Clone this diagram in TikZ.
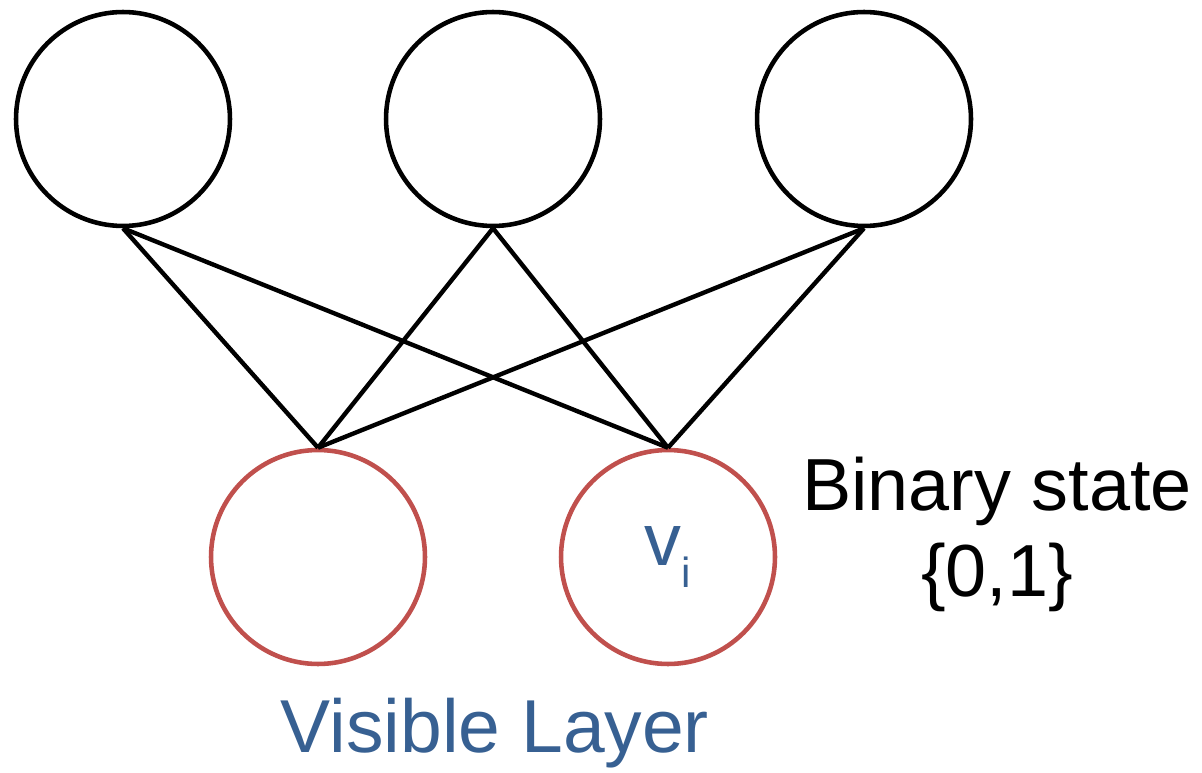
\documentclass[tikz,border=0pt]{standalone}
\usepackage{fontspec}
\setmainfont{Liberation Sans}
\usepackage{tikz}
\usetikzlibrary{positioning}
\definecolor{visred}{HTML}{C0504D}
\definecolor{visblue}{HTML}{376092}

\begin{document}
\begin{tikzpicture}[
  x=0.02cm,y=-0.02cm,
  hid/.style={draw=black,circle,line width=2.6pt,minimum size=4.28cm,inner sep=0pt},
  vis/.style={draw=visred,circle,line width=2.6pt,minimum size=4.28cm,inner sep=0pt},
  link/.style={line width=2.5pt,black}
]
  \useasboundingbox (0,0) rectangle (1202,773);
  \node[hid] (h1) at (123,119) {};
  \node[hid] (h2) at (493,119) {};
  \node[hid] (h3) at (864,119) {};
  \node[vis] (v1) at (318,557) {};
  \node[vis,text=visblue,font=\fontsize{42}{48}\selectfont] (v2) at (668,557)
    {v\raisebox{-0.55ex}{\fontsize{24}{28}\selectfont i}};
  \foreach \h in {h1,h2,h3}
    \foreach \v in {v1,v2}
      \draw[link] (\h.south) -- (\v.north);
  \node[align=center,font=\fontsize{42}{49}\selectfont] (state) at (997,534)
    {Binary state\\\{0,1\}};
  \node[text=visblue,font=\fontsize{42.7}{50}\selectfont] (layer) at (495,733) {Visible Layer};
\end{tikzpicture}
\end{document}
